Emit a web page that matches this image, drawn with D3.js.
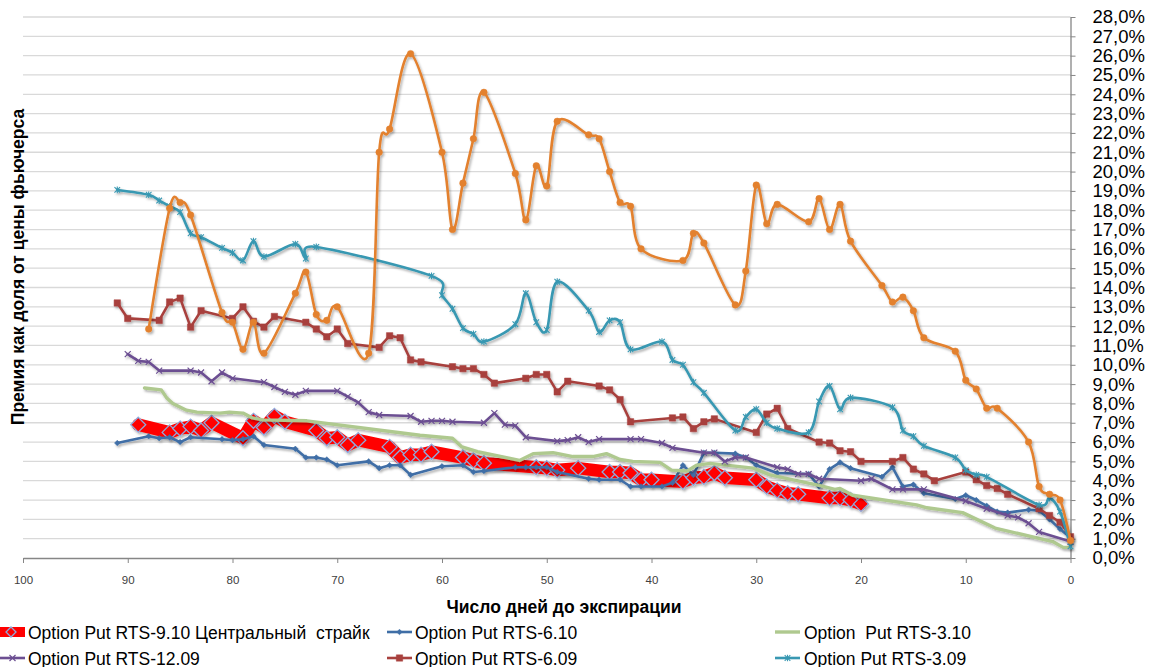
<!DOCTYPE html>
<html><head><meta charset="utf-8">
<script src="https://cdn.jsdelivr.net/npm/d3@7"></script>
<style>body{margin:0;background:#fff;} svg{display:block;font-family:"Liberation Sans",Arial,sans-serif;}</style>
</head><body><svg id="c" width="1154" height="667"></svg>
<script>
// ---------- DATA ----------
const xTickValues = [100, 90, 80, 70, 60, 50, 40, 30, 20, 10, 0];
const yTickValues = [0,1,2,3,4,5,6,7,8,9,10,11,12,13,14,15,16,17,18,19,20,21,22,23,24,25,26,27,28];
const xTitle = "Число дней до экспирации";
const yTitle = "Премия как доля от цены фьючерса";

const names = ["Option Put RTS-9.10 Центральный  страйк", "Option Put RTS-6.10", "Option  Put RTS-3.10",
               "Option Put RTS-12.09", "Option Put RTS-6.09", "Option Put RTS-3.09", "Option Put RTS-9.09"];

const daysRts910 = [89,86,85,84,83,82,79,78,77,76,75,72,71,70,69,68,65,64,63,62,61,58,57,56,51,50,49,47,44,43,42,41,40,37,36,35,34,33,30,29,28,27,26,23,22,21,20];
const valsRts910 = [6.9,6.5,6.7,6.8,6.6,7.0,6.2,7.1,6.75,7.35,7.05,6.6,6.2,6.25,5.85,6.1,5.75,5.2,5.35,5.35,5.5,5.2,5.05,4.9,4.7,4.65,4.55,4.65,4.45,4.45,4.4,4.05,4.05,3.95,4.15,4.2,4.4,4.15,4.05,3.7,3.5,3.35,3.3,3.1,3.1,3.0,2.8];

const daysRts610 = [91,88,87,86,85,84,81,80,79,78,77,74,73,72,71,70,67,66,65,64,63,60,58,57,56,53,52,51,50,49,46,45,43,42,41,39,38,37,36,35,34,32,31,30,28,25,24,23,22,21,18,17,16,15,14,11,10,9,8,7,6,4,3,2,1,0];
const valsRts610 = [5.95,6.3,6.2,6.25,6.0,6.25,6.15,6.1,6.15,6.3,5.85,5.65,5.2,5.2,5.1,4.8,5.0,4.65,4.8,4.8,4.3,4.75,4.8,4.45,4.5,4.7,4.7,4.7,4.7,4.45,4.1,4.05,4.05,3.7,3.7,3.7,3.9,4.8,4.3,5.45,5.45,5.4,5.2,4.8,4.4,4.35,3.7,4.6,4.95,4.65,4.2,4.7,3.7,3.8,3.35,3.05,3.25,3.0,2.7,2.4,2.35,2.5,2.45,2.0,1.5,1.05];

const daysRts310 = [88.4,86.8,86.3,85.7,84.4,83.4,81.2,80.3,79,78.1,77.1,72.9,62.1,59,58.1,56.6,52.6,51.3,49.4,47.5,45.6,44.3,43,41.8,39.2,38.1,36.6,35.7,34.4,30.3,28.7,23.9,22.5,22,20.8,14.7,13.7,10.3,7.2,1.7,0.7,0];
const valsRts310 = [8.8,8.7,8.3,8.0,7.65,7.55,7.5,7.55,7.5,7.25,7.15,7.1,6.35,6.2,5.75,5.5,5.05,5.4,5.45,5.25,5.25,5.4,5.1,5.0,4.95,4.55,4.5,4.8,4.9,4.65,4.3,3.75,3.55,3.6,3.25,2.75,2.6,2.35,1.55,0.85,0.55,0.55];

const daysRts1209 = [90,89,88,87,84,83,82,81,80,77,76,75,74,73,70,69,68,67,66,63,62,61,60,59,56,55,54,53,52,49,48,47,46,45,42,41,39,38,35,34,33,32,31,28,27,26,25,24,20,19,17,16,14,10,8,6,5,4,3,0];
const valsRts1209 = [10.55,10.2,10.15,9.7,9.7,9.6,9.15,9.6,9.3,9.1,8.85,8.6,8.45,8.65,8.65,8.35,8.05,7.55,7.4,7.35,7.05,7.1,7.1,7.05,7.0,7.5,6.9,6.85,6.25,6.05,6.1,6.25,6.0,6.15,6.15,6.15,5.95,5.7,5.45,5.45,5.0,5.2,5.2,4.7,4.6,4.35,4.35,4.1,4.0,4.1,3.55,3.55,3.55,2.95,2.55,2.2,2.1,1.8,1.35,0.85];

const daysRts609 = [91,90,87,86,85,84,83,80,79,78,77,76,73,72,71,70,69,66,65,64,63,62,59,58,57,56,55,52,51,50,49,48,45,44,43,42,38,37,36,35,34,30,29,28,27,24,23,22,21,20,17,16,15,14,13,10,9,8,7,6,3,2,1,0];
const valsRts609 = [13.2,12.4,12.3,13.25,13.45,11.95,12.8,12.4,13.0,12.25,11.95,12.5,12.2,11.85,11.45,11.85,11.1,10.9,11.5,11.4,10.25,10.15,9.9,9.8,9.8,9.5,9.05,9.3,9.5,9.5,8.6,9.15,8.9,8.7,8.2,7.05,7.25,7.3,6.7,7.05,7.2,6.5,7.45,7.75,6.7,6.0,5.95,5.55,5.5,5.0,5.0,5.2,4.6,4.35,4.0,4.45,4.05,3.75,3.6,3.3,2.55,2.2,1.85,1.1];

const daysRts309 = [91,88,87,86,85,84,83,81,80,79,78,77,74,73,72,61,60,59,58,57,56,53,52,51,50,49,46,45,44,43,42,39,38,37,36,35,32,31,30,29,28,25,24,23,22,21,17,16,15,14,11,10,9,8,3,2,1,0];
const valsRts309 = [19.05,18.8,18.5,18.2,17.9,16.8,16.6,16.05,15.8,15.4,16.4,15.6,16.25,15.5,16.1,14.6,13.6,12.9,11.9,11.6,11.2,12.1,13.7,12.2,11.8,14.3,12.8,11.7,12.3,12.2,10.8,11.2,10.25,10.0,9.1,8.55,6.6,7.3,7.7,7.0,6.7,6.5,8.1,8.9,7.7,8.3,7.8,6.6,6.3,5.8,5.2,4.55,4.3,4.2,2.75,3.1,2.4,0.6];

const daysRts909 = [88,86,85,84,81,80,79,78,77,74,73,72,71,70,67,66,65,63,60,59,58,57,56,53,52,51,50,49,46,45,44,43,42,41,37,36,35,32,31,30,29,28,25,24,23,22,21,18,17,16,15,14,11,10,9,8,7,4,3,2,1,0];
const valsRts909 = [11.85,18.1,18.4,17.75,12.7,12.2,10.8,12.2,10.6,13.7,14.8,12.6,12.3,13.0,10.6,21.0,22.2,26.1,21.0,17.0,19.4,21.7,24.1,19.9,17.5,20.3,19.25,22.6,21.9,21.7,20.0,18.4,18.2,16.0,15.4,16.8,16.3,13.1,14.85,19.3,17.3,18.3,17.4,18.6,17.0,18.3,16.4,14.1,13.25,13.5,12.8,11.4,10.7,9.2,8.75,7.75,7.75,6.0,3.7,3.3,3.0,0.9];

// ---------- LAYOUT ----------
const x = d3.scaleLinear().domain([100, 0]).range([23, 1070.5]);
const y = d3.scaleLinear().domain([0, 28]).range([558, 17]);

const svg = d3.select("#c");
const defs = svg.append("defs");
const f = defs.append("filter").attr("id", "sh").attr("x", "-10%").attr("y", "-10%").attr("width", "120%").attr("height", "130%");
f.append("feDropShadow").attr("dx", 1.5).attr("dy", 2).attr("stdDeviation", 1.2).attr("flood-color", "#000").attr("flood-opacity", 0.3);

// gridlines
svg.append("g").selectAll("line").data(yTickValues.filter(v => v > 0)).join("line")
  .attr("x1", x(100)).attr("x2", x(0)).attr("y1", d => y(d)).attr("y2", d => y(d))
  .attr("stroke", "#d9d9d9").attr("stroke-width", 1.3);

// axes
const gx = svg.append("g").attr("transform", `translate(0,${y(0)})`)
  .call(d3.axisBottom(x).tickValues(xTickValues).tickSize(5).tickSizeOuter(0).tickPadding(13));
gx.select(".domain").attr("stroke", "#868686").attr("stroke-width", 1.3);
gx.selectAll(".tick line").attr("stroke", "#868686");
gx.selectAll("text").attr("fill", "#404040").style("font-size", "11.5px").style("font-family", "Liberation Sans, Arial, sans-serif");

const gy = svg.append("g").attr("transform", `translate(${x(0)},0)`)
  .call(d3.axisRight(y).tickValues(yTickValues).tickSize(5).tickSizeOuter(0).tickPadding(17)
    .tickFormat(d => d.toFixed(1).replace(".", ",") + "%"));
gy.select(".domain").attr("stroke", "#868686").attr("stroke-width", 1.3);
gy.selectAll(".tick line").attr("stroke", "#868686");
gy.selectAll("text").attr("fill", "#000").style("font-size", "18.5px").style("font-family", "Liberation Sans, Arial, sans-serif");

// titles
svg.append("text").attr("x", 564).attr("y", 613).attr("text-anchor", "middle")
  .style("font-weight", "bold").style("font-size", "17.5px").attr("fill", "#000").text(xTitle);
svg.append("text").attr("transform", "translate(24,267) rotate(-90)").attr("text-anchor", "middle")
  .style("font-weight", "bold").style("font-size", "17.5px").attr("fill", "#000").text(yTitle);

// ---------- SERIES ----------
const markerPath = {
  diamond: s => `M0,${-s}L${s},0L0,${s}L${-s},0Z`,
  square: s => `M${-s},${-s}H${s}V${s}H${-s}Z`,
  cross: s => `M${-s},${-s}L${s},${s}M${-s},${s}L${s},${-s}`,
  star: s => `M${-s},${-s}L${s},${s}M${-s},${s}L${s},${-s}M0,${-s*1.2}L0,${s*1.2}`,
  circle: s => `M${-s},0A${s},${s} 0 1,0 ${s},0A${s},${s} 0 1,0 ${-s},0Z`
};

const series = [
  {days: daysRts910, vals: valsRts910, color: "#ff0000", width: 12.5, smooth: false, marker: "diamond", ms: 7.5, mfill: "#ff0000", mstroke: "#8faadc", msw: 1.3},
  {days: daysRts610, vals: valsRts610, color: "#3f6ea6", width: 2.6, smooth: false, marker: "diamond", ms: 2.8, mfill: "#3f6ea6", mstroke: "#3f6ea6", msw: 0.5},
  {days: daysRts310, vals: valsRts310, color: "#afc98f", width: 3.4, smooth: false, marker: null},
  {days: daysRts1209, vals: valsRts1209, color: "#6c4f92", width: 2.6, smooth: false, marker: "cross", ms: 3, mfill: "none", mstroke: "#6c4f92", msw: 1.2},
  {days: daysRts609, vals: valsRts609, color: "#a8413e", width: 2.6, smooth: false, marker: "square", ms: 3.2, mfill: "#a8413e", mstroke: "#a8413e", msw: 0.5},
  {days: daysRts309, vals: valsRts309, color: "#3898b2", width: 2.6, smooth: true, marker: "star", ms: 2.8, mfill: "none", mstroke: "#3898b2", msw: 1.1},
  {days: daysRts909, vals: valsRts909, color: "#e3812f", width: 2.6, smooth: true, marker: "circle", ms: 3.3, mfill: "#e3812f", mstroke: "#e3812f", msw: 0.5}
];

series.forEach(s => {
  const pts = s.days.map((d, i) => [d, s.vals[i]]);
  const line = d3.line().x(d => x(d[0])).y(d => y(d[1]))
    .curve(s.smooth ? d3.curveCardinal.tension(0) : d3.curveLinear);
  const g = svg.append("g").attr("filter", "url(#sh)");
  g.append("path").attr("d", line(pts)).attr("fill", "none").attr("stroke", s.color)
    .attr("stroke-width", s.width).attr("stroke-linejoin", "round").attr("stroke-linecap", "round");
  if (s.marker) {
    g.selectAll("path.m").data(pts).join("path").attr("class", "m")
      .attr("transform", d => `translate(${x(d[0])},${y(d[1])})`)
      .attr("d", markerPath[s.marker](s.ms))
      .attr("fill", s.mfill).attr("stroke", s.mstroke).attr("stroke-width", s.msw);
  }
});

// ---------- LEGEND ----------
const legendPos = [
  {lx: 0, tx: 28, cy: 632}, {lx: 387, tx: 415, cy: 632}, {lx: 775, tx: 804, cy: 632},
  {lx: 0, tx: 28, cy: 658}, {lx: 387, tx: 415, cy: 658}, {lx: 775, tx: 804, cy: 658}
];
legendPos.forEach((p, i) => {
  const s = series[i];
  const g = svg.append("g");
  g.append("line").attr("x1", p.lx).attr("x2", p.lx + 25).attr("y1", p.cy).attr("y2", p.cy)
    .attr("stroke", s.color).attr("stroke-width", i === 0 ? 10 : s.width);
  if (s.marker) {
    g.append("path").attr("transform", `translate(${i === 0 ? 11 : p.lx + 12.5},${p.cy})`)
      .attr("d", markerPath[s.marker](i === 0 ? 5 : s.ms))
      .attr("fill", s.mfill).attr("stroke", s.mstroke).attr("stroke-width", s.msw);
  }
  g.append("text").attr("x", p.tx).attr("y", p.cy + 6.5).style("font-size", "17.5px").attr("fill", "#000")
    .attr("xml:space", "preserve").style("white-space", "pre").text(names[i]);
});
</script>
</body></html>
